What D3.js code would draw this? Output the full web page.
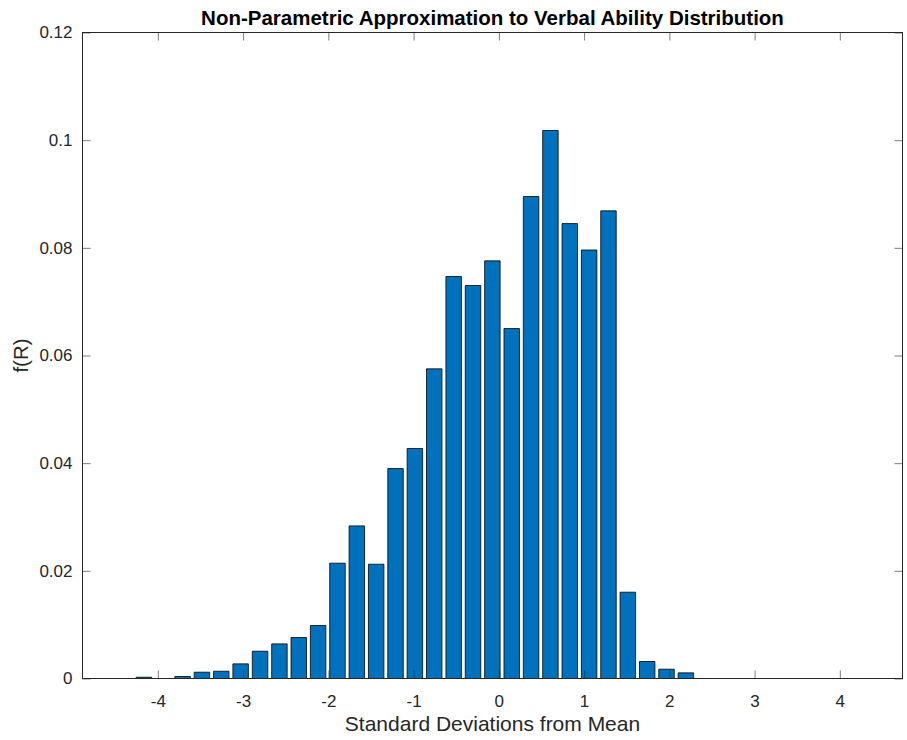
<!DOCTYPE html>
<html>
<head>
<meta charset="utf-8">
<script src="https://cdn.jsdelivr.net/npm/d3@7"></script>
<style>
    body { margin: 0; background: #fff; }
    text { font-family: "Liberation Sans", Arial, Helvetica, sans-serif; fill: #262626; }
</style>
</head>
<body>
<div id="chart"></div>
<script>
// bin centers (standard deviations from mean) and relative frequencies
const binCenters = [-4.618, -4.391, -4.164, -3.937, -3.710, -3.483, -3.256, -3.029, -2.801, -2.574,
    -2.347, -2.120, -1.893, -1.666, -1.439, -1.212, -0.985, -0.758, -0.530, -0.303,
    -0.076, 0.151, 0.378, 0.605, 0.832, 1.059, 1.286, 1.513, 1.740, 1.967,
    2.194, 2.421, 2.648, 2.875, 3.102, 3.329, 3.557, 3.784, 4.011, 4.238, 4.465];
const freqs = [0.0000, 0.0000, 0.00024, 0.0000, 0.00037, 0.00117, 0.00135, 0.00272, 0.00507, 0.00643,
    0.00761, 0.00984, 0.02142, 0.02835, 0.02123, 0.0390, 0.04273, 0.05752, 0.07468, 0.0730,
    0.07758, 0.0650, 0.08954, 0.1018, 0.0845, 0.0796, 0.08687, 0.01603, 0.00316, 0.00173,
    0.00105, 0, 0, 0, 0, 0, 0, 0, 0, 0, 0];
const xTicks = [-4, -3, -2, -1, 0, 1, 2, 3, 4];
const yTicks = [0, 0.02, 0.04, 0.06, 0.08, 0.1, 0.12];
const xDomain = [-4.884, 4.735];
const yDomain = [0, 0.12];
const binWidth = 0.2271;

const W = 907, H = 740;
const margin = {top: 32.5, right: 4.5, bottom: 61.5, left: 82.5},
    width = W - margin.left - margin.right,
    height = H - margin.top - margin.bottom;

const svg0 = d3.select("#chart")
    .append("svg")
    .attr("width", W)
    .attr("height", H);

svg0.append("rect").attr("width", W).attr("height", H).attr("fill", "#fff");

const svg = svg0.append("g")
    .attr("transform", `translate(${margin.left},${margin.top})`);

const xx = d3.scaleLinear().domain(xDomain).range([0, width]);
const yy = d3.scaleLinear().domain(yDomain).range([height, 0]);

const points = binCenters.map((c, i) => [c, freqs[i]]);

// bars (MATLAB bar width 0.8) - drawn as paths so empty bins still show an edge
const bw = 0.8 * binWidth;
svg.selectAll("path.bar")
    .data(points)
    .enter()
    .append("path")
    .attr("class", "bar")
    .attr("d", function (d) {
        const x0 = xx(d[0] - bw / 2), x1 = xx(d[0] + bw / 2);
        const y0 = yy(0), y1 = yy(d[1]);
        return `M${x0},${y0}V${y1}H${x1}V${y0}Z`;
    })
    .attr("fill", "#0072BD")
    .attr("stroke", "#000")
    .attr("stroke-width", 0.8);

// axes, ticks inward on all four sides
const tickLen = 8;
const axisColor = "#262626";

const xAxis = d3.axisBottom(xx).tickValues(xTicks).tickSize(-tickLen).tickPadding(16)
    .tickFormat(d => String(d));
const xTop = d3.axisTop(xx).tickValues(xTicks).tickSize(-tickLen).tickFormat("");
const yAxis = d3.axisLeft(yy).tickValues(yTicks).tickSize(-tickLen).tickPadding(10)
    .tickFormat(d => d === 0 ? "0" : String(+d.toFixed(2)));
const yRight = d3.axisRight(yy).tickValues(yTicks).tickSize(-tickLen).tickFormat("");

function styleAxis(g) {
    g.select(".domain").remove();
    g.selectAll(".tick line").attr("stroke", axisColor).attr("stroke-width", 0.6);
    g.selectAll(".tick text").style("font-size", "17px").style("fill", axisColor)
        .style("font-family", '"Liberation Sans", Arial, sans-serif');
}

svg.append("g").attr("transform", `translate(0,${height})`).call(xAxis).call(styleAxis);
svg.append("g").call(xTop).call(styleAxis);
svg.append("g").call(yAxis).call(styleAxis);
svg.append("g").attr("transform", `translate(${width},0)`).call(yRight).call(styleAxis);

// box
svg.append("rect")
    .attr("x", 0).attr("y", 0)
    .attr("width", width).attr("height", height)
    .attr("fill", "none")
    .attr("stroke", axisColor)
    .attr("stroke-width", 1);

// title and labels
svg.append("text").attr("x", width / 2).attr("y", -8)
    .text("Non-Parametric Approximation to Verbal Ability Distribution")
    .style("font-size", "20.5px").style("font-weight", "bold").style("fill", "#000")
    .style("text-anchor", "middle");
svg.append("text").attr("x", width / 2).attr("y", height + 52)
    .text("Standard Deviations from Mean")
    .style("font-size", "21px").style("text-anchor", "middle");
svg.append("text").attr("x", -height / 2).attr("y", -55)
    .text("f(R)")
    .style("font-size", "20.5px").style("text-anchor", "middle")
    .attr("transform", "rotate(-90)");
</script>
</body>
</html>
